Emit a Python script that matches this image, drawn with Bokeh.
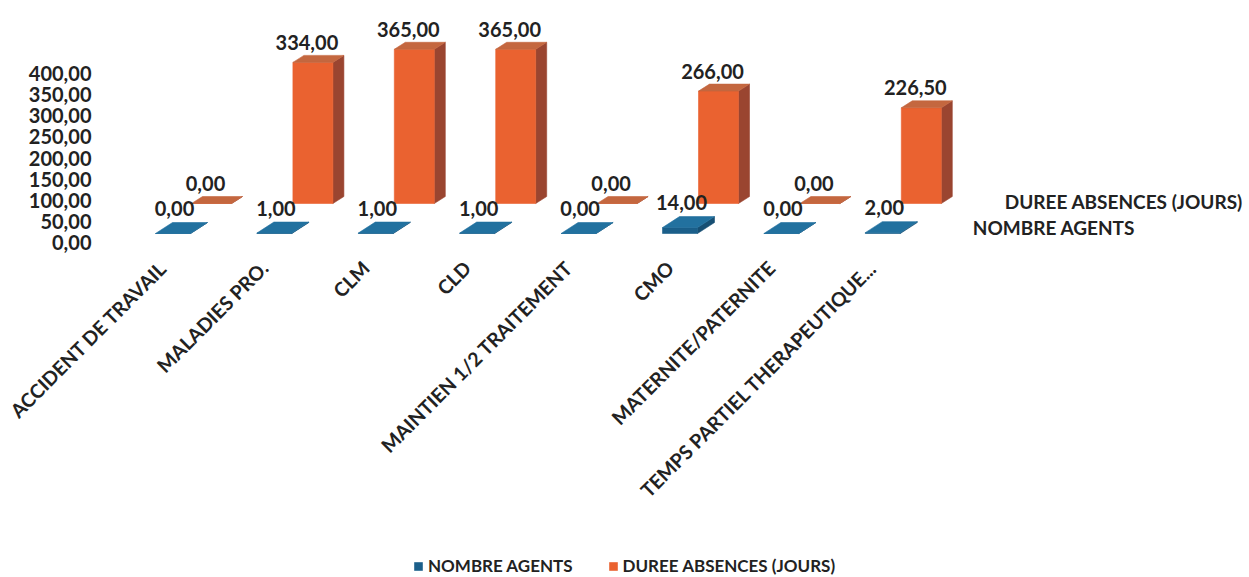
import numpy as np
from bokeh.plotting import figure
from bokeh.models import Range1d, ColumnDataSource, Legend, LegendItem
from bokeh.core.properties import value
from bokeh.embed import file_html
from bokeh.resources import INLINE

# ---------------- data ----------------
categories = ["ACCIDENT DE TRAVAIL", "MALADIES PRO.", "CLM", "CLD",
              "MAINTIEN 1/2 TRAITEMENT", "CMO", "MATERNITE/PATERNITE",
              "TEMPS PARTIEL THERAPEUTIQUE..."]
nombre_agents = [0, 1, 1, 1, 0, 14, 0, 2]
duree_absences = [0, 334, 365, 365, 0, 266, 0, 226.5]
series_names = ["NOMBRE AGENTS", "DUREE ABSENCES (JOURS)"]
y_ticks = [0, 50, 100, 150, 200, 250, 300, 350, 400]

# ---------------- layout / style ----------------
FONT = "Lato"
TXT = "#222222"
W, H = 1247, 576
PX_CAT = 101.4      # pixels per category
PX_VAL = 0.4225     # pixels per value unit
ZERO_PX = 242       # pixel row (from top of figure) of value 0
X0 = -172.5 / PX_CAT


def cu(px):
    return px / PX_CAT


def vu(px):
    return px / PX_VAL


def fmt(v):
    return f"{v:.2f}".replace(".", ",")


p = figure(width=W, height=H, output_backend="svg", toolbar_location=None,
           x_range=Range1d(X0, X0 + W / PX_CAT),
           y_range=Range1d(-vu(H - ZERO_PX), vu(ZERO_PX)),
           x_axis_location=None, y_axis_location=None,
           min_border_left=0, min_border_right=0,
           min_border_top=0, min_border_bottom=0)
p.outline_line_color = None
p.xgrid.grid_line_color = None
p.ygrid.grid_line_color = None

# value axis tick labels, placed on the value scale
src_y = ColumnDataSource(dict(x=np.full(len(y_ticks), X0 + cu(91)),
                              y=y_ticks, txt=[fmt(t) for t in y_ticks]))
p.text(x="x", y="y", text="txt", source=src_y, text_font=value(FONT),
       text_font_size="20px", text_font_style="bold", text_color=TXT,
       text_align="right", text_baseline="middle")


def draw_series(vals, off_px, base_px, width_px, ddx_px, ddy_px,
                c_front, c_side, c_top):
    vals = np.asarray(vals, dtype=float)
    idx = np.arange(len(vals))
    c = idx + cu(off_px)
    hw = cu(width_px / 2)
    l, r = c - hw, c + hw
    b = np.full(len(vals), vu(base_px))
    t = b + vals
    ddx, ddy = cu(ddx_px), vu(ddy_px)
    side_xs = [[r[i], r[i] + ddx, r[i] + ddx, r[i]] for i in idx]
    side_ys = [[b[i], b[i] + ddy, t[i] + ddy, t[i]] for i in idx]
    top_xs = [[l[i], r[i], r[i] + ddx, l[i] + ddx] for i in idx]
    top_ys = [[t[i], t[i], t[i] + ddy, t[i] + ddy] for i in idx]
    p.patches(side_xs, side_ys, fill_color=c_side, line_color=c_side, line_width=0.6)
    front = p.quad(left=l, right=r, bottom=b, top=t, fill_color=c_front,
                   line_color=c_front, line_width=0.6)
    p.patches(top_xs, top_ys, fill_color=c_top, line_color=c_top, line_width=0.6)
    return c, t, front


# back row: durée (orange)
c_o, t_o, r_o = draw_series(duree_absences, 38.5, 39, 40, 11, 7,
                            "#EA6230", "#9A4530", "#C4673F")
# front row: nombre agents (blue)
c_b, t_b, r_b = draw_series(nombre_agents, 0, 9, 35, 17, 11,
                            "#1B5F8A", "#174F73", "#22719F")

lab_style = dict(text_font=value(FONT), text_font_size="20px", text_font_style="bold",
                 text_color=TXT, text_align="center", text_baseline="middle")

src_o = ColumnDataSource(dict(x=c_o - cu(6), y=t_o + vu(20),
                              txt=[fmt(v) for v in duree_absences]))
p.text(x="x", y="y", text="txt", source=src_o, **lab_style)
src_b = ColumnDataSource(dict(x=c_b + cu(1.5), y=t_b + vu(25),
                              txt=[fmt(v) for v in nombre_agents]))
p.text(x="x", y="y", text="txt", source=src_b, **lab_style)

# category labels (rotated 45 degrees, ending under each bar)
src_c = ColumnDataSource(dict(x=c_b - cu(10), y=np.full(len(categories), -vu(22)),
                              txt=categories))
p.text(x="x", y="y", text="txt", source=src_c, angle=np.pi / 4,
       text_font=value(FONT), text_font_size="19.5px", text_font_style="bold",
       text_color=TXT, text_align="right", text_baseline="middle")

# series (depth) axis labels
last = len(categories) - 1
src_s = ColumnDataSource(dict(
    x=[c_b[last] + cu(90), c_b[last] + cu(122)],
    y=[vu(9) + vu(6), vu(39) + vu(2)],
    txt=series_names))
p.text(x="x", y="y", text="txt", source=src_s, text_font=value(FONT),
       text_font_size="19px", text_font_style="bold", text_color=TXT,
       text_align="left", text_baseline="middle")

legend = Legend(items=[LegendItem(label=series_names[0], renderers=[r_b]),
                       LegendItem(label=series_names[1], renderers=[r_o])],
                orientation="horizontal", location=(413, 0),
                label_text_font=FONT, label_text_font_size="17px",
                label_text_font_style="bold", label_text_color=TXT,
                glyph_width=10, glyph_height=10, label_height=17,
                label_standoff=5, spacing=35, padding=0, margin=0,
                border_line_color=None, background_fill_alpha=0)
p.add_layout(legend)

open("out.html", "w").write(file_html(p, INLINE))
